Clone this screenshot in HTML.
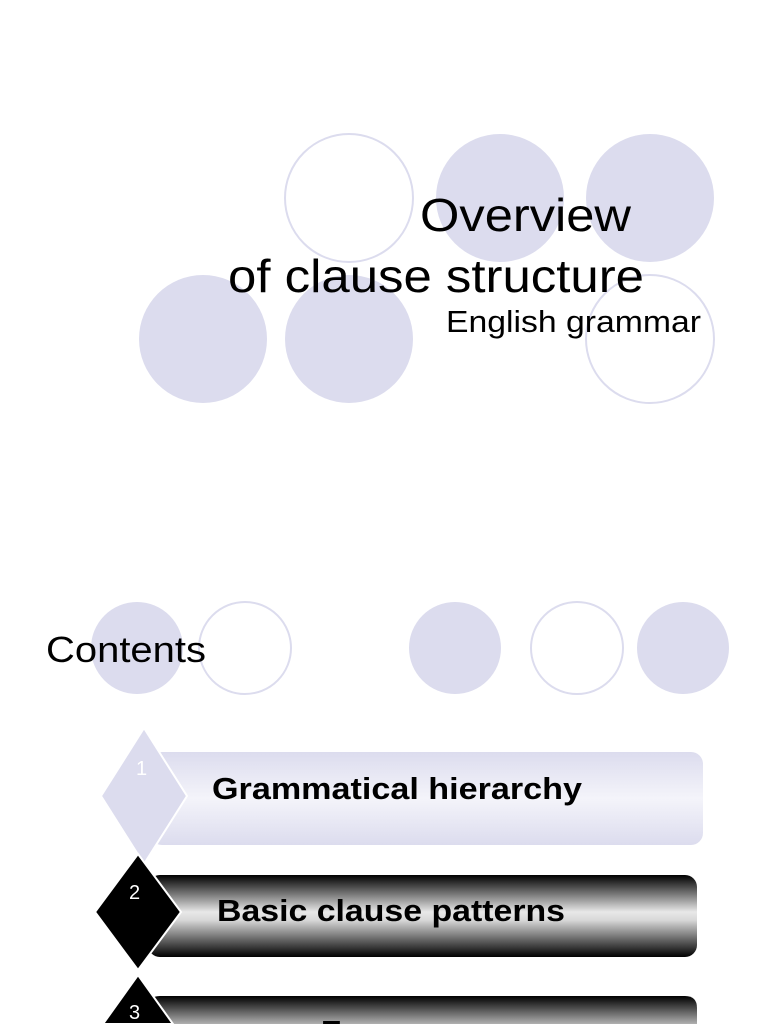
<!DOCTYPE html>
<html><head><meta charset="utf-8"><style>
html,body{margin:0;padding:0;background:#fff;width:768px;height:1024px;overflow:hidden;}
svg{display:block;}
text{font-family:"Liberation Sans",Arial,sans-serif;}
</style></head><body>
<svg width="768" height="1024" viewBox="0 0 768 1024" xmlns="http://www.w3.org/2000/svg">
<defs>
<linearGradient id="g1" x1="0" y1="0" x2="0" y2="1">
<stop offset="0" stop-color="#dcdcee"/><stop offset="0.5" stop-color="#f4f4fa"/><stop offset="1" stop-color="#dcdcee"/>
</linearGradient>
<linearGradient id="g2" x1="0" y1="0" x2="0" y2="1">
<stop offset="0" stop-color="#000"/><stop offset="0.45" stop-color="#e8e8e8"/><stop offset="0.55" stop-color="#d8d8d8"/><stop offset="1" stop-color="#000"/>
</linearGradient>
<linearGradient id="g3" x1="0" y1="0" x2="0" y2="1">
<stop offset="0" stop-color="#000"/><stop offset="1" stop-color="#b0b0b0"/>
</linearGradient>
</defs>
<g fill="#dcdcee">
<circle cx="500" cy="198" r="64"/>
<circle cx="650" cy="198" r="64"/>
<circle cx="203" cy="339" r="64"/>
<circle cx="349" cy="339" r="64"/>
<circle cx="137" cy="648" r="46"/>
<circle cx="455" cy="648" r="46"/>
<circle cx="683" cy="648" r="46"/>
</g>
<g fill="none" stroke="#dcdcee" stroke-width="2">
<circle cx="349" cy="198" r="64"/>
<circle cx="650" cy="339" r="64"/>
<circle cx="245" cy="648" r="46"/>
<circle cx="577" cy="648" r="46"/>
</g>
<text x="420" y="231" font-size="46" textLength="211" lengthAdjust="spacingAndGlyphs">Overview</text>
<text x="228" y="292" font-size="46" textLength="416" lengthAdjust="spacingAndGlyphs">of clause structure</text>
<text x="446" y="332" font-size="31" textLength="255" lengthAdjust="spacingAndGlyphs">English grammar</text>
<text x="46" y="662" font-size="36" textLength="160" lengthAdjust="spacingAndGlyphs">Contents</text>

<rect x="150" y="752" width="553" height="93" rx="12" fill="url(#g1)"/>
<polygon points="144,728 187,796 144,864 101,796" fill="#dcdcee" stroke="#fff" stroke-width="2"/>
<text x="136" y="775" font-size="20" fill="#fff">1</text>
<text x="212" y="799" font-size="31" font-weight="bold" textLength="370" lengthAdjust="spacingAndGlyphs">Grammatical hierarchy</text>

<rect x="148" y="875" width="549" height="82" rx="12" fill="url(#g2)"/>
<polygon points="138,854 181,912 138,970 95,912" fill="#000" stroke="#fff" stroke-width="2"/>
<text x="129" y="899" font-size="20" fill="#fff">2</text>
<text x="217" y="921" font-size="31" font-weight="bold" textLength="348" lengthAdjust="spacingAndGlyphs">Basic clause patterns</text>

<path d="M148,1024 V1008 Q148,996 160,996 H685 Q697,996 697,1008 V1024 Z" fill="url(#g3)"/>
<polygon points="138,975 173,1024 103,1024" fill="#000" stroke="#fff" stroke-width="2"/>
<text x="129" y="1019" font-size="20" fill="#fff">3</text>
<text x="321" y="1042" font-size="31" font-weight="bold">Exer</text>
</svg>
</body></html>
